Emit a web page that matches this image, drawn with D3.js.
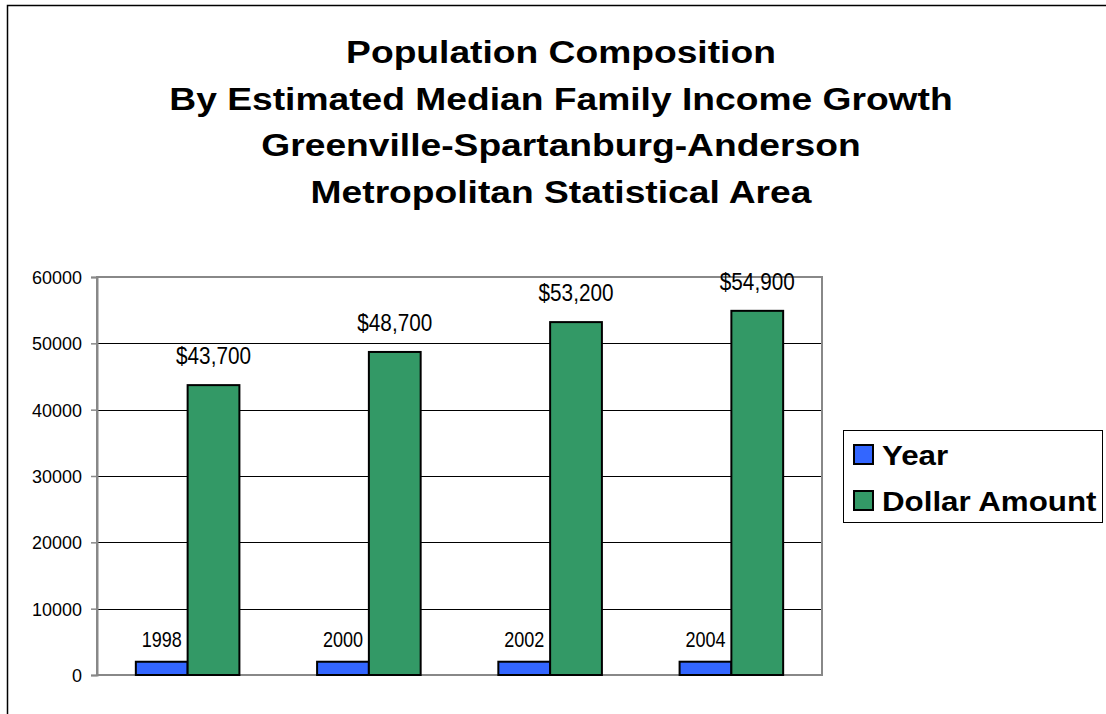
<!DOCTYPE html>
<html>
<head>
<meta charset="utf-8">
<script src="https://cdn.jsdelivr.net/npm/d3@7"></script>
<style>
  html, body { margin: 0; padding: 0; background: #fff; }
  svg { display: block; }
</style>
</head>
<body>
<svg id="chart" width="1106" height="714"></svg>
<script>
// Chart data
const categories = ["1998", "2000", "2002", "2004"];
const seriesNames = ["Year", "Dollar Amount"];
const yearValues = [1998, 2000, 2002, 2004];
const dollarValues = [43700, 48700, 53200, 54900];
const yTicks = [0, 10000, 20000, 30000, 40000, 50000, 60000];
const titleLines = [
  "Population Composition",
  "By Estimated Median Family Income Growth",
  "Greenville-Spartanburg-Anderson",
  "Metropolitan Statistical Area"
];
const colors = ["#3366ff", "#339966"];

const svg = d3.select("#chart");
const sans = "'Liberation Sans', Arial, sans-serif";

// Outer chart frame (top and left edges)
svg.append("path")
  .attr("d", "M7.5,714 L7.5,5.5 L1106,5.5")
  .attr("fill", "none").attr("stroke", "#000").attr("stroke-width", 1.5);

// Title (wide bold lettering)
svg.append("g").attr("transform", "translate(561,0) scale(1.2,1)")
  .selectAll("text").data(titleLines).join("text")
  .attr("x", 0).attr("y", (d, i) => 63 + i * 46.7)
  .attr("text-anchor", "middle")
  .attr("font-family", sans).attr("font-weight", "bold").attr("font-size", 31)
  .text(d => d);

// Plot area
const plot = { left: 97, right: 822, top: 277, bottom: 675 };

const x0 = d3.scaleBand().domain(categories).range([plot.left, plot.right]).paddingInner(0.4286).paddingOuter(0.2143);
const x1 = d3.scaleBand().domain(seriesNames).range([0, x0.bandwidth()]);
const y = d3.scaleLinear().domain([0, 60000]).range([plot.bottom, plot.top]);

// Gridlines
svg.append("g").selectAll("line").data(yTicks.filter(t => t > 0 && t < 60000)).join("line")
  .attr("x1", plot.left).attr("x2", plot.right)
  .attr("y1", d => Math.round(y(d)) + 0.5).attr("y2", d => Math.round(y(d)) + 0.5)
  .attr("stroke", "#000").attr("stroke-width", 1);

// Plot frame
svg.append("rect")
  .attr("x", plot.left).attr("y", plot.top)
  .attr("width", plot.right - plot.left).attr("height", plot.bottom - plot.top)
  .attr("fill", "none").attr("stroke", "#888").attr("stroke-width", 2);

// Y axis
const yAxis = d3.axisLeft(y).tickValues(yTicks).tickSize(6).tickPadding(9).tickFormat(d3.format("d"));
const ya = svg.append("g").attr("transform", `translate(${plot.left},0)`).call(yAxis);
ya.select(".domain").attr("stroke", "#888").attr("stroke-width", 2);
ya.selectAll(".tick line").attr("stroke", "#888").attr("stroke-width", 1.5);
ya.selectAll(".tick text")
  .attr("font-family", sans).attr("font-size", 18.7).attr("fill", "#000")
  .attr("x", null).attr("dy", null)
  .attr("transform", "translate(-15,6.5) scale(0.96,1)");

// Bars
const groups = svg.append("g").selectAll("g").data(categories).join("g")
  .attr("transform", d => `translate(${x0(d)},0)`);

const rows = categories.map((c, i) => [
  { series: seriesNames[0], value: yearValues[i], label: String(yearValues[i]) },
  { series: seriesNames[1], value: dollarValues[i], label: "$" + d3.format(",")(dollarValues[i]) }
]);

groups.each(function(c, i) {
  const g = d3.select(this);
  g.selectAll("rect").data(rows[i]).join("rect")
    .attr("x", d => x1(d.series))
    .attr("y", d => y(d.value))
    .attr("width", x1.bandwidth())
    .attr("height", d => y(0) - y(d.value))
    .attr("fill", (d, j) => colors[j])
    .attr("stroke", "#000").attr("stroke-width", 2);
  // Value labels in condensed lettering
  g.selectAll("text").data(rows[i]).join("text")
    .attr("transform", d => {
      const cx = x1(d.series) + x1.bandwidth() / 2;
      const by = y(d.value) - (d.series === "Year" ? 15 : 21);
      const sx = d.series === "Year" ? 0.82 : 0.89;
      return `translate(${cx},${by}) scale(${sx},1)`;
    })
    .attr("text-anchor", "middle")
    .attr("font-family", sans)
    .attr("font-size", d => d.series === "Year" ? 22 : 23.3)
    .text(d => d.label);
});

// Legend
const legend = svg.append("g");
legend.append("rect")
  .attr("x", 843.5).attr("y", 430.5).attr("width", 259).attr("height", 92)
  .attr("fill", "#fff").attr("stroke", "#000").attr("stroke-width", 1);
const items = legend.selectAll("g").data(seriesNames).join("g")
  .attr("transform", (d, i) => `translate(854,${445 + i * 46})`);
items.append("rect").attr("width", 19).attr("height", 19)
  .attr("fill", (d, i) => colors[i]).attr("stroke", "#000").attr("stroke-width", 2);
items.append("text").attr("transform", "translate(28,20) scale(1.16,1)")
  .attr("font-family", sans).attr("font-weight", "bold").attr("font-size", 27)
  .text(d => d);
</script>
</body>
</html>
